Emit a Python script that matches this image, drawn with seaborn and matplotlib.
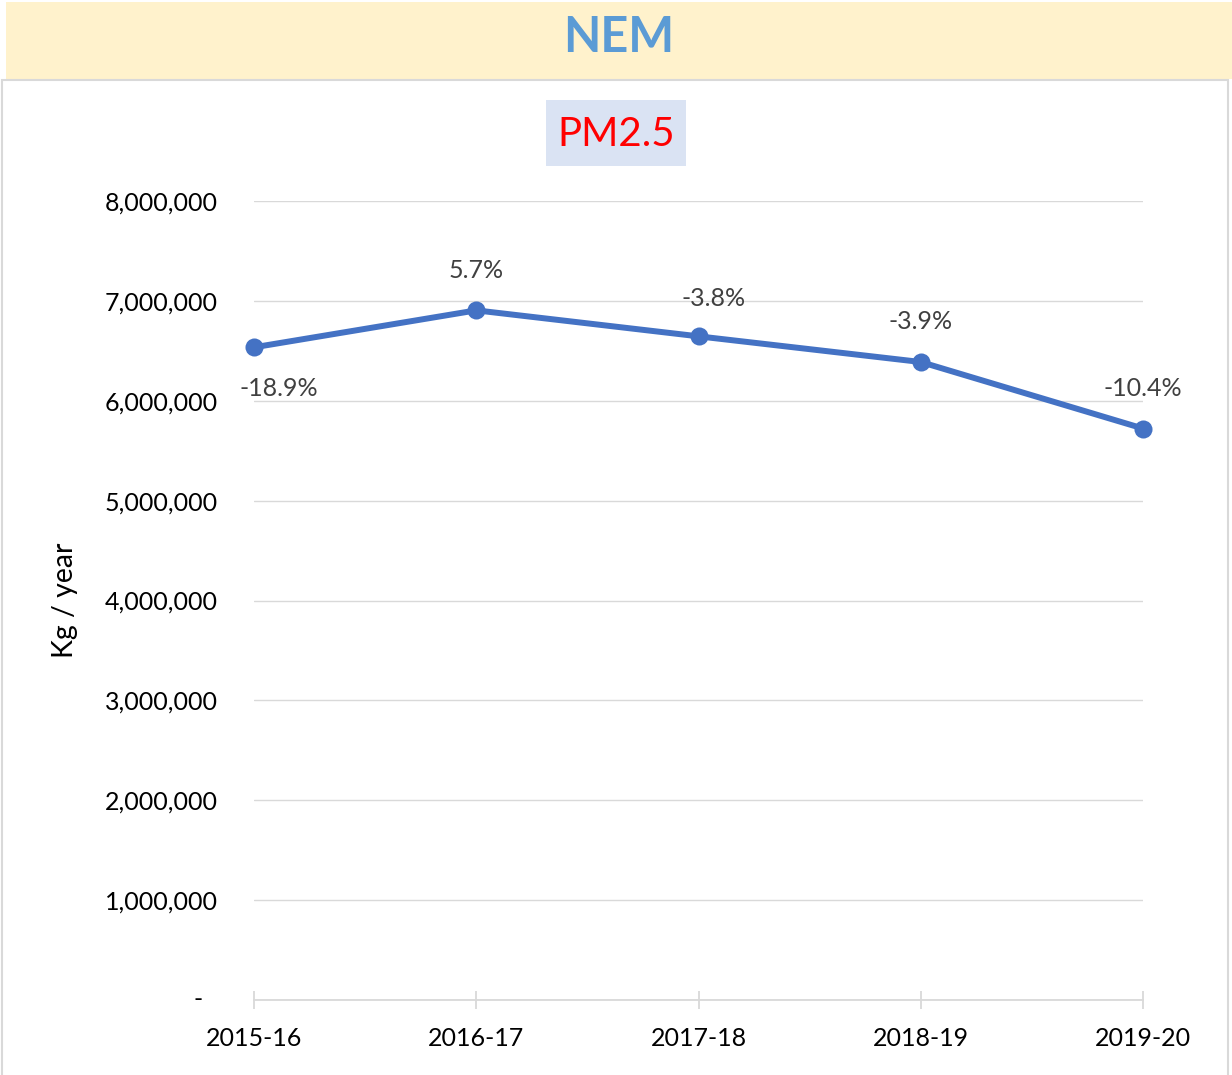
import matplotlib
matplotlib.use("Agg")
import matplotlib.pyplot as plt
import matplotlib.patches as mpatches
import seaborn as sns
import pandas as pd

# data
years = ["2015-16", "2016-17", "2017-18", "2018-19", "2019-20"]
emissions = [6535000, 6905000, 6645000, 6388000, 5722000]
change_labels = ["-18.9%", "5.7%", "-3.8%", "-3.9%", "-10.4%"]
ytick_values = [0, 1000000, 2000000, 3000000, 4000000, 5000000, 6000000, 7000000, 8000000]

df = pd.DataFrame({"year": years, "kg": emissions})

sns.set_theme(style="white")
plt.rcParams["font.family"] = ["Lato", "DejaVu Sans"]

W, H = 1232, 1075
fig = plt.figure(figsize=(W / 100, H / 100), dpi=100)

# header band and chart frame
fig.patches.append(mpatches.Rectangle((6 / W, 1 - 79 / H), 1 - 6 / W, 77 / H,
                                      transform=fig.transFigure, facecolor="#FFF2CC",
                                      edgecolor="none", zorder=-2))
fig.patches.append(mpatches.Rectangle((2 / W, -0.01), 1226 / W, 1 - 80 / H + 0.01,
                                      transform=fig.transFigure, facecolor="white",
                                      edgecolor="#D9D9D9", linewidth=1.5, zorder=-2))
fig.text(619 / W, 1 - 38 / H, "NEM", ha="center", va="center", fontsize=35,
         fontweight="bold", color="#5B9BD5")
fig.patches.append(mpatches.Rectangle((546 / W, 1 - 166 / H), 140 / W, 66 / H,
                                      transform=fig.transFigure, facecolor="#DAE3F3",
                                      edgecolor="none", zorder=-1))
fig.text(616 / W, 1 - 134 / H, "PM2.5", ha="center", va="center", fontsize=29,
         color="#FF0000", zorder=2)

ax = fig.add_axes([254 / W, 1 - 1000 / H, 889 / W, 799 / H])
ax.set_zorder(3)
ax.set_facecolor("none")

sns.lineplot(data=df, x="year", y="kg", ax=ax, sort=False, color="#4472C4",
             linewidth=4.3, marker="o", markersize=13, markeredgewidth=0, clip_on=False,
             zorder=3)

ax.set_xlim(0, 4)
ax.set_ylim(0, 8000000)
ax.set_yticks(ytick_values)
ax.set_yticklabels(["" if v == 0 else f"{v:,}" for v in ytick_values])
ax.text(-51 / 889, 0, "-", transform=ax.get_yaxis_transform(), ha="right",
        va="center", fontsize=18, color="black")
ax.grid(axis="y", color="#D9D9D9", linewidth=1)
ax.grid(axis="x", visible=False)
for s in ["left", "right", "top"]:
    ax.spines[s].set_visible(False)
ax.spines["bottom"].set_color("#D9D9D9")
ax.spines["bottom"].set_linewidth(1.3)

ax.tick_params(axis="y", left=False, length=0, pad=26, labelsize=18, labelcolor="black")
ax.tick_params(axis="x", bottom=True, direction="inout", length=13, width=1.3,
               color="#D9D9D9", pad=13, labelsize=18, labelcolor="black")
ax.set_xlabel("")
ax.set_ylabel("Kg / year", fontsize=20.5, color="black")
ax.yaxis.set_label_coords(-176 / 889, 0.5)

offsets = [(18, -30), (0, 29), (11, 27), (0, 29), (0, 29)]
for i, (val, lab) in enumerate(zip(emissions, change_labels)):
    ax.annotate(lab, (i, val), xytext=offsets[i], textcoords="offset points",
                ha="center", va="center", fontsize=18, color="#404040")

fig.savefig("out.png", dpi=100)
